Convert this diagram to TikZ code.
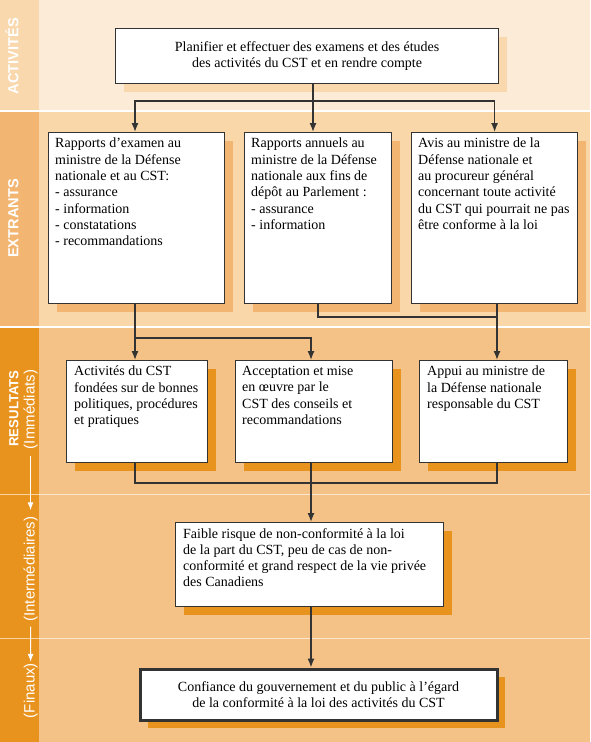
\documentclass[tikz,border=0pt]{standalone}
\usepackage{fontspec}
\setmainfont{Liberation Serif}
\setsansfont{Liberation Sans}
\usepackage{tikz}
\usetikzlibrary{arrows.meta,shadows}

\definecolor{actside}{HTML}{F9D8AE}
\definecolor{actmain}{HTML}{FCEBD7}
\definecolor{extside}{HTML}{F3B672}
\definecolor{extmain}{HTML}{FAD7A8}
\definecolor{resside}{HTML}{E9931F}
\definecolor{resmain}{HTML}{F4C286}
\definecolor{boxline}{HTML}{333333}

\begin{document}
\begin{tikzpicture}[x=1pt,y=-1pt]
		\useasboundingbox (0,0) rectangle (590,742);
		% bands
		\fill[white] (0,0) rectangle (590,742);
		\fill[actmain] (0,0) rectangle (590,110);
		\fill[actside] (0,0) rectangle (39,110);
		\fill[extmain] (0,112) rectangle (590,326);
		\fill[extside] (0,112) rectangle (39,326);
		\fill[resmain] (0,328) rectangle (590,742);
		\fill[resside] (0,328) rectangle (39,742);
		\draw[white,opacity=.6,line width=1pt] (0,494) -- (590,494) (0,638) -- (590,638);
		\tikzstyle{cstbox}=[draw=boxline,line width=1.2pt,fill=white,inner sep=0pt,anchor=north west]
		\tikzstyle{shadowact}=[drop shadow={shadow xshift=8pt,shadow yshift=-8pt,fill=actside,opacity=1}]
		\tikzstyle{shadowext}=[drop shadow={shadow xshift=8pt,shadow yshift=-8pt,fill=extside,opacity=1}]
		\tikzstyle{shadowres}=[drop shadow={shadow xshift=8pt,shadow yshift=-8pt,fill=resside,opacity=1}]
		\tikzstyle{txt}=[inner sep=0pt,align=left,anchor=north west,font=\fontsize{14}{16.3}\selectfont]
		\tikzstyle{link}=[draw=boxline,line width=1.3pt]
		\tikzstyle{flow}=[link,-{Latex[length=9pt,width=7pt]}]
		\tikzstyle{sidelabel}=[white,rotate=90,anchor=base,inner sep=0pt,font=\sffamily\bfseries\fontsize{14.6}{16}\selectfont]
		\tikzstyle{sidesub}=[white,rotate=90,anchor=base,inner sep=0pt,font=\sffamily\fontsize{15}{16}\selectfont]
		\tikzstyle{side}=[white,line width=1pt,-{Latex[length=8pt,width=6pt]}]
		% side labels
		\node[sidelabel] (s_act) at (18.3,56) {ACTIVITÉS};
		\node[sidelabel] (s_ext) at (18.3,218.5) {EXTRANTS};
		\node[sidelabel,font=\sffamily\bfseries\fontsize{13.2}{15}\selectfont] (s_res) at (18.3,408.5) {RESULTATS};
		\node[sidesub] (s_imm) at (34.5,409.5) {(Immédiats)};
		\node[sidesub] (s_int) at (34.5,569) {(Intermédiaires)};
		\node[sidesub] (s_fin) at (34.5,690.5) {(Finaux)};
		\draw[side,shorten <=6.5pt,shorten >=6pt] (s_imm.west) -- (s_int.east);
		\draw[side,shorten <=5pt,shorten >=1pt] (s_int.west) -- (s_fin.east);
		% activites
		\node[cstbox,shadowact,minimum width=383pt,minimum height=55pt] (act_1) at (115,28) {};
		\node[txt,align=center,anchor=center] (t_act_1) at (act_1.center) {Planifier et effectuer des examens et des études\\des activités du CST et en rendre compte};
		% extrants
		\node[cstbox,shadowext,minimum width=176pt,minimum height=171pt] (ext_1) at (48,132) {};
		\node[cstbox,shadowext,minimum width=147pt,minimum height=171pt] (ext_2) at (244,132) {};
		\node[cstbox,shadowext,minimum width=166pt,minimum height=171pt] (ext_3) at (411,132) {};
		\node[txt] (t_ext_1) at ([shift={(7pt,-6pt)}]ext_1.north west) {Rapports d’examen au\\ministre de la Défense\\nationale et au CST:\\- assurance\\- information\\- constatations\\- recommandations};
		\node[txt] (t_ext_2) at ([shift={(7pt,-6pt)}]ext_2.north west) {Rapports annuels au\\ministre de la Défense\\nationale aux fins de\\dépôt au Parlement :\\- assurance\\- information};
		\node[txt] (t_ext_3) at ([shift={(7pt,-6pt)}]ext_3.north west) {Avis au ministre de la\\Défense nationale et\\au procureur général\\concernant toute activité\\du CST qui pourrait ne pas\\être conforme à la loi};
		% resultats
		\node[cstbox,shadowres,minimum width=141pt,minimum height=102pt] (res_1) at (66,360) {};
		\node[cstbox,shadowres,minimum width=157pt,minimum height=102pt] (res_2) at (235,360) {};
		\node[cstbox,shadowres,minimum width=148pt,minimum height=102pt] (res_3) at (419,360) {};
		\node[txt] (t_res_1) at ([shift={(8pt,-6pt)}]res_1.north west) {Activités du CST\\fondées sur de bonnes\\politiques, procédures\\et pratiques};
		\node[txt] (t_res_2) at ([shift={(7pt,-6pt)}]res_2.north west) {Acceptation et mise\\en œuvre par le\\CST des conseils et\\recommandations};
		\node[txt] (t_res_3) at ([shift={(8pt,-6pt)}]res_3.north west) {Appui au ministre de\\la Défense nationale\\responsable du CST};
		\node[cstbox,shadowres,minimum width=268pt,minimum height=84pt] (int_1) at (175,522) {};
		\node[txt] (t_int_1) at ([shift={(8pt,-6pt)}]int_1.north west) {Faible risque de non-conformité à la loi\\de la part du CST, peu de cas de non-\\conformité et grand respect de la vie privée\\des Canadiens};
		\node[cstbox,shadowres,line width=3pt,minimum width=357pt,minimum height=51pt] (fin_1) at (138.5,667.5) {};
		\node[txt,align=center,anchor=center] (t_fin_1) at (fin_1.center) {Confiance du gouvernement et du public à l’égard\\de la conformité à la loi des activités du CST};
		% connectors
		\coordinate (j_1) at (313,101);
		\coordinate (j_2) at (135,338);
		\coordinate (j_3) at (497,317);
		\coordinate (j_4) at (311,483);
		\draw[link] (act_1.south -| j_1) -- (j_1);
		\draw[flow] (j_1) -| (j_2 |- ext_1.north);
		\draw[flow] (j_1) -- (j_1 |- ext_2.north);
		\draw[flow] (j_1) -| (ext_3.north);
		\draw[flow] (j_2 |- ext_1.south) -- (j_2 |- res_1.north);
		\draw[flow] (j_2) -| (j_4 |- res_2.north);
		\draw[link] (ext_2.south) |- (j_3);
		\draw[flow] (j_3 |- ext_3.south) -- (j_3 |- res_3.north);
		\draw[link] (j_2 |- res_1.south) |- (j_4 -| j_3) -- (j_3 |- res_3.south);
		\draw[flow] (j_4 |- res_2.south) -- (j_4 |- int_1.north);
		\draw[flow] (j_4 |- int_1.south) -- (j_4 |- fin_1.north);
	\end{tikzpicture}
\end{document}
